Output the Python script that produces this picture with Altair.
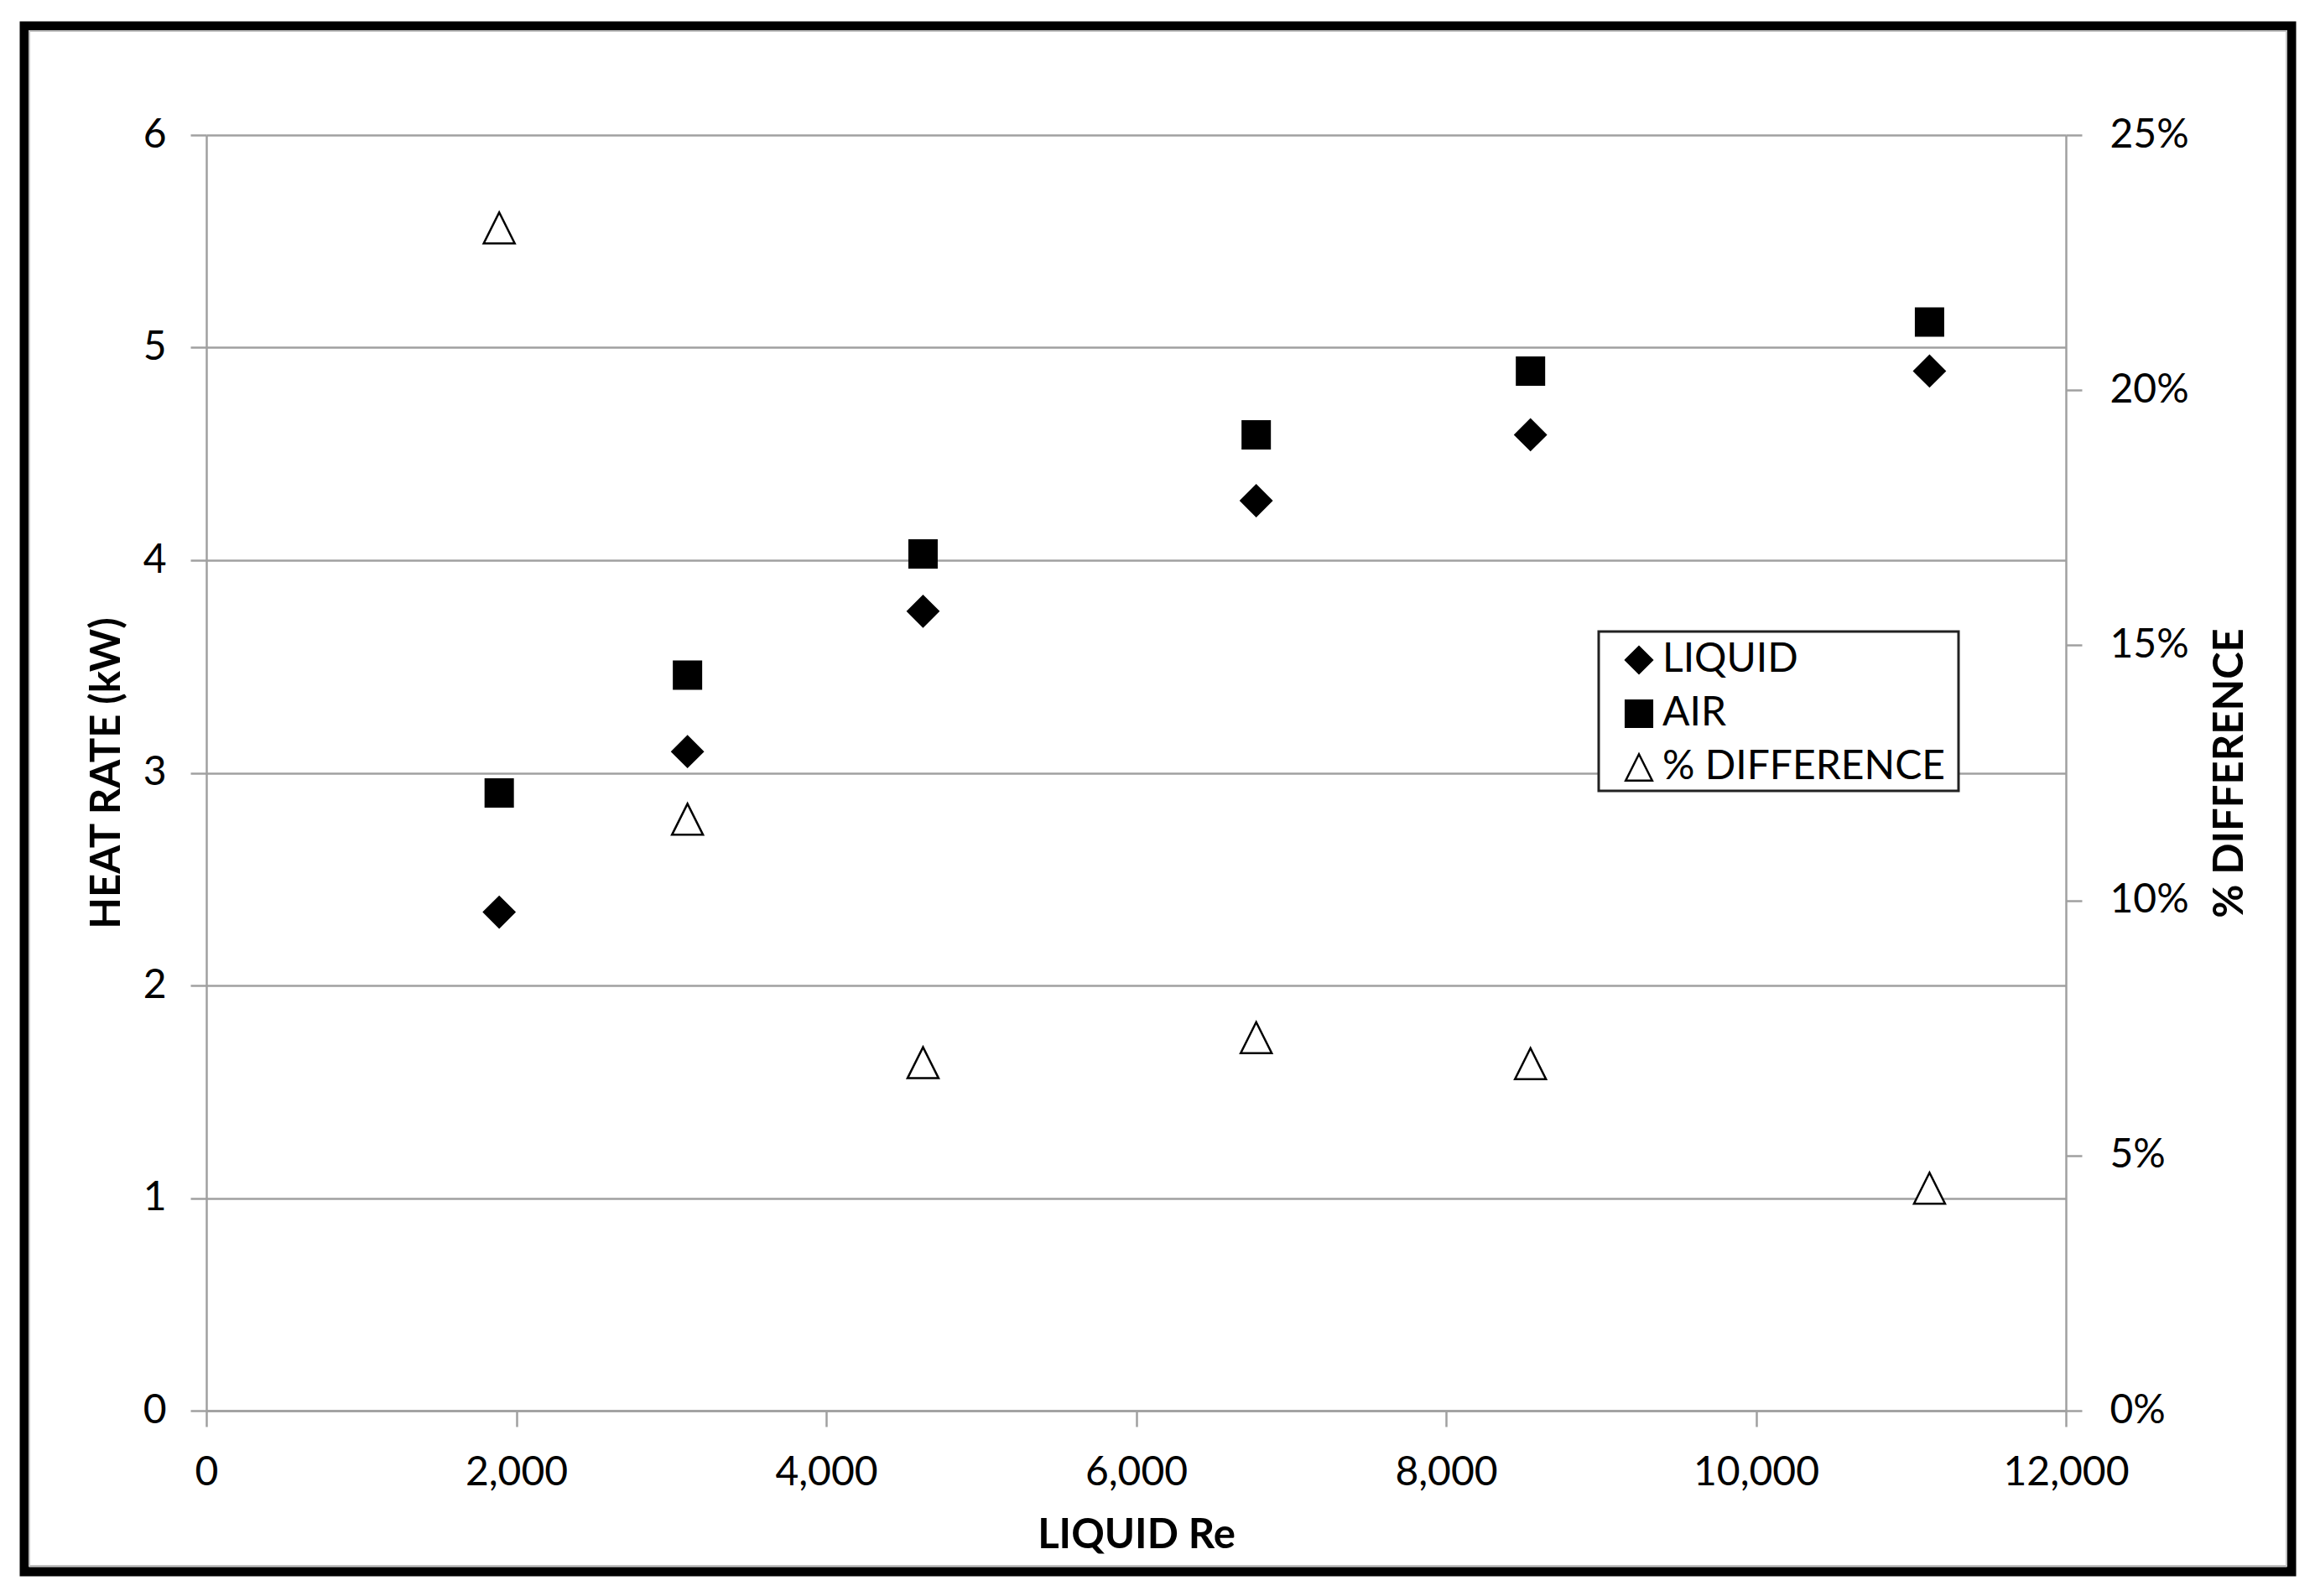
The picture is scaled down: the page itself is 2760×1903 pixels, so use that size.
import altair as alt
import pandas as pd

# ---- data ----
re_vals = [1890, 3105, 4625, 6775, 8545, 11120]
liquid_kw = [2.345, 3.10, 3.76, 4.28, 4.59, 4.89]
air_kw = [2.905, 3.46, 4.03, 4.59, 4.89, 5.12]
pct_diff = [0.2318, 0.1159, 0.0682, 0.0731, 0.0680, 0.0436]
series_names = ["LIQUID", "AIR", "% DIFFERENCE"]
x_ticks = [0, 2000, 4000, 6000, 8000, 10000, 12000]
y_ticks = [0, 1, 2, 3, 4, 5, 6]
pct_ticks = [0, 0.05, 0.10, 0.15, 0.20, 0.25]

liq = pd.DataFrame({"re": re_vals, "kw": liquid_kw, "series": ["LIQUID"] * len(re_vals)})
air = pd.DataFrame({"re": re_vals, "kw": air_kw, "series": ["AIR"] * len(re_vals)})
diff = pd.DataFrame({"re": re_vals, "pct": pct_diff, "series": ["% DIFFERENCE"] * len(re_vals)})
one = pd.DataFrame({"k": [0]})

W, H = 2217, 1521
GRAY = "#a0a0a0"
FONT = "Lato"

tri_path = "M0,-1L1,1L-1,1Z"
shape_scale = alt.Scale(domain=series_names, range=["diamond", "square", tri_path])
fill_scale = alt.Scale(domain=series_names, range=["#000000", "#000000", "#ffffff"])
stroke_scale = alt.Scale(domain=series_names, range=["#000000", "#000000", "#000000"])

legend = alt.Legend(
    title=None, orient="none", legendX=1684, legendY=602, padding=0,
    labelFont=FONT, labelFontSize=48, labelColor="#000000", labelOffset=4,
    labelLimit=500, symbolSize=1000, symbolStrokeWidth=2.5,
    rowPadding=16, zindex=2,
)

x_axis = alt.Axis(values=x_ticks, format=",.0f", title="LIQUID Re", grid=False,
                  labelPadding=31, titlePadding=26, labelFlush=False)
x_enc = alt.X("re:Q", scale=alt.Scale(domain=[0, 12000], nice=False), axis=x_axis)

y_left = alt.Y("kw:Q", scale=alt.Scale(domain=[0, 6], nice=False),
               axis=alt.Axis(values=y_ticks, title="HEAT RATE (kW)", grid=True,
                             labelPadding=29, titlePadding=18, labelFlush=False))

shape_enc = alt.Shape("series:N", scale=shape_scale, legend=legend)
fill_enc = alt.Fill("series:N", scale=fill_scale, legend=legend)
stroke_enc = alt.Stroke("series:N", scale=stroke_scale, legend=legend)

liq_layer = alt.Chart(liq).mark_point(
    filled=True, strokeWidth=2, opacity=1, size=1369
).encode(x=x_enc, y=y_left, shape=shape_enc, fill=fill_enc, stroke=stroke_enc)

air_layer = alt.Chart(air).mark_point(
    filled=True, strokeWidth=2, opacity=1, size=1089
).encode(x=x_enc, y=y_left, shape=shape_enc, fill=fill_enc, stroke=stroke_enc)

heat_layer = alt.layer(liq_layer, air_layer)

diff_layer = alt.Chart(diff).mark_point(
    filled=True, strokeWidth=2.5, opacity=1, size=1369
).encode(
    x=x_enc,
    y=alt.Y("pct:Q", scale=alt.Scale(domain=[0, 0.25], nice=False),
            axis=alt.Axis(orient="right", values=pct_ticks, format=".0%",
                          title="% DIFFERENCE", grid=False, labelPadding=33,
                          titlePadding=25, titleAngle=270, titleBaseline="top",
                          labelFlush=False)),
    shape=shape_enc,
    fill=fill_enc,
    stroke=stroke_enc,
)

outer = alt.Chart(one).mark_rect(
    fillOpacity=0, stroke="#000000", strokeWidth=11
).encode(x=alt.value(-217), x2=alt.value(2486), y=alt.value(-130), y2=alt.value(1713))

inner = alt.Chart(one).mark_rect(
    fillOpacity=0, stroke="#c0c0c0", strokeWidth=2
).encode(x=alt.value(-211), x2=alt.value(2480), y=alt.value(-124), y2=alt.value(1706))

legend_box = alt.Chart(one).mark_rect(
    fill="#ffffff", stroke="#222222", strokeWidth=3
).encode(x=alt.value(1660), x2=alt.value(2089), y=alt.value(592), y2=alt.value(782))

chart = alt.layer(outer, inner, legend_box, heat_layer, diff_layer).resolve_scale(
    y="independent"
).properties(
    width=W, height=H,
    autosize=alt.AutoSizeParams(type="none"),
    padding={"left": 238, "top": 153, "right": 282, "bottom": 203},
    background="#ffffff",
).configure_view(strokeWidth=0).configure_axis(
    domainColor=GRAY, domainWidth=2.5, tickColor=GRAY, tickWidth=2.5, tickSize=19,
    gridColor=GRAY, gridWidth=2.5,
    labelFont=FONT, labelFontSize=48, labelColor="#000000",
    titleFont=FONT, titleFontSize=49, titleFontWeight="bold", titleColor="#000000",
)

chart.save("out.html", embed_options={"renderer": "svg", "actions": False})
